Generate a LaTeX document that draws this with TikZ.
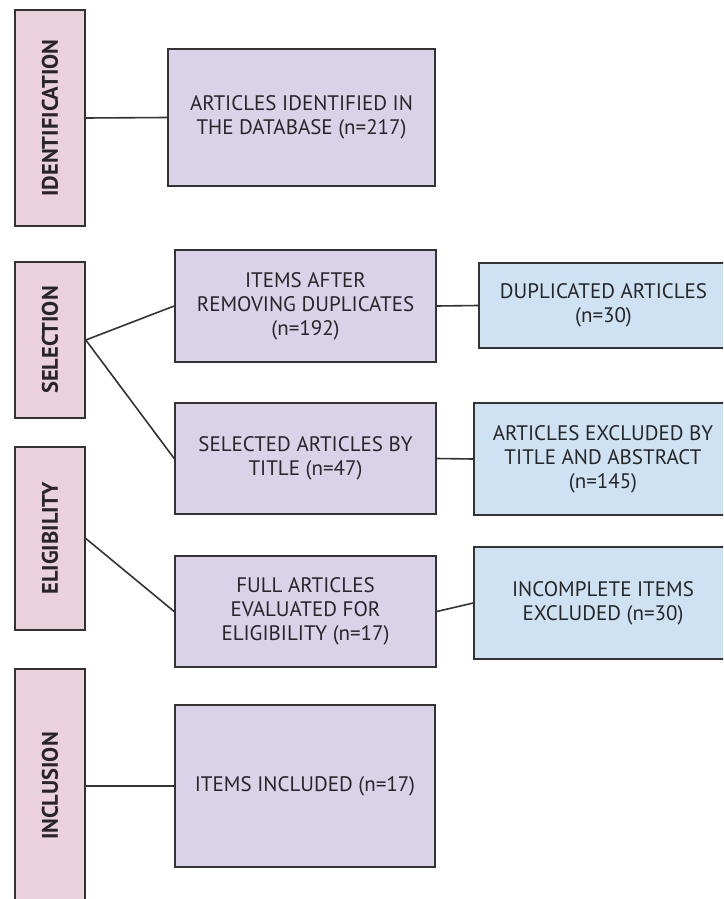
\documentclass[tikz,border=0pt]{standalone}
\usepackage{fontspec}
\setmainfont{PT Sans}
\usepackage{xcolor}
\usetikzlibrary{positioning}
\definecolor{phasepink}{HTML}{EAD1DC}
\definecolor{steplilac}{HTML}{D9D2E9}
\definecolor{dropblue}{HTML}{CFE2F3}
\definecolor{edgegray}{HTML}{333333}
\definecolor{inkgray}{HTML}{262626}
\tikzset{
  phasebox/.style={rectangle, draw=edgegray, fill=phasepink, line width=1.6pt,
    minimum width=70pt, inner sep=0pt, text=inkgray,
    font=\bfseries\fontsize{22.5}{24}\selectfont},
  stepbox/.style={rectangle, draw=edgegray, fill=steplilac, line width=1.6pt,
    minimum width=261pt, align=center, inner sep=0pt, text=inkgray,
    font=\fontsize{21}{24}\selectfont},
  dropbox/.style={rectangle, draw=edgegray, fill=dropblue, line width=1.6pt,
    align=center, inner sep=0pt, text=inkgray,
    font=\fontsize{21}{24}\selectfont},
  linkline/.style={draw=edgegray, line width=1.6pt},
}
\begin{document}
\begin{tikzpicture}[x=1pt, y=-1pt]
  \useasboundingbox (0,0) rectangle (723,899);
  \clip (0,0) rectangle (723,899);

  % Phases (left column, from top to bottom)
  \node[phasebox, minimum height=216pt] (ident) at (50,118) {\rotatebox{90}{IDENTIFICATION}};
  \node[phasebox, minimum height=156pt] (sel) at (50,340) {\rotatebox{90}{SELECTION}};
  \node[phasebox, minimum height=183pt] (elig) at (50,538.5) {\rotatebox{90}{ELIGIBILITY}};
  \node[phasebox, minimum height=234pt] (incl) at (50,786) {\rotatebox{90}{INCLUSION}};

  % Steps (middle column)
  \node[stepbox, minimum width=267pt, minimum height=137pt] (found) at (301.5,117.5) {ARTICLES IDENTIFIED IN\\THE DATABASE (n=217)};
  \node[stepbox, minimum height=112pt] (nodup) at (305.5,306) {ITEMS AFTER\\REMOVING DUPLICATES\\(n=192)};
  \node[stepbox, minimum height=111pt] (bytitle) at (305.5,458.5) {SELECTED ARTICLES BY\\TITLE (n=47)};
  \node[stepbox, minimum height=111pt] (fulltext) at (305.5,611.5) {FULL ARTICLES\\EVALUATED FOR\\ELIGIBILITY (n=17)};
  \node[stepbox, minimum width=260pt, minimum height=162pt] (kept) at (305,786) {ITEMS INCLUDED (n=17)};

  % Exclusions (right column, cut by the page edge)
  \node[dropbox, minimum width=249pt, minimum height=85pt] (dup) at (603.5,305.5) {DUPLICATED ARTICLES\\(n=30)};
  \node[dropbox, minimum width=258pt, minimum height=112pt] (abstract) at (603,459) {ARTICLES EXCLUDED BY\\TITLE AND ABSTRACT\\(n=145)};
  \node[dropbox, minimum width=258pt, minimum height=112pt] (partial) at (603,603) {INCOMPLETE ITEMS\\EXCLUDED (n=30)};

  % Phase links
  \draw[linkline] (ident.east) -- (found.west);
  \draw[linkline] (sel.east) -- (nodup.west);
  \draw[linkline] (sel.east) -- (bytitle.west);
  \draw[linkline] (elig.east) -- (fulltext.west);
  \draw[linkline] (incl.east) -- (kept.west);

  % Exclusion links
  \draw[linkline] (nodup.east) -- (dup.west);
  \draw[linkline] (bytitle.east) -- (abstract.west);
  \draw[linkline] (fulltext.east) -- (partial.west);

\end{tikzpicture}
\end{document}
